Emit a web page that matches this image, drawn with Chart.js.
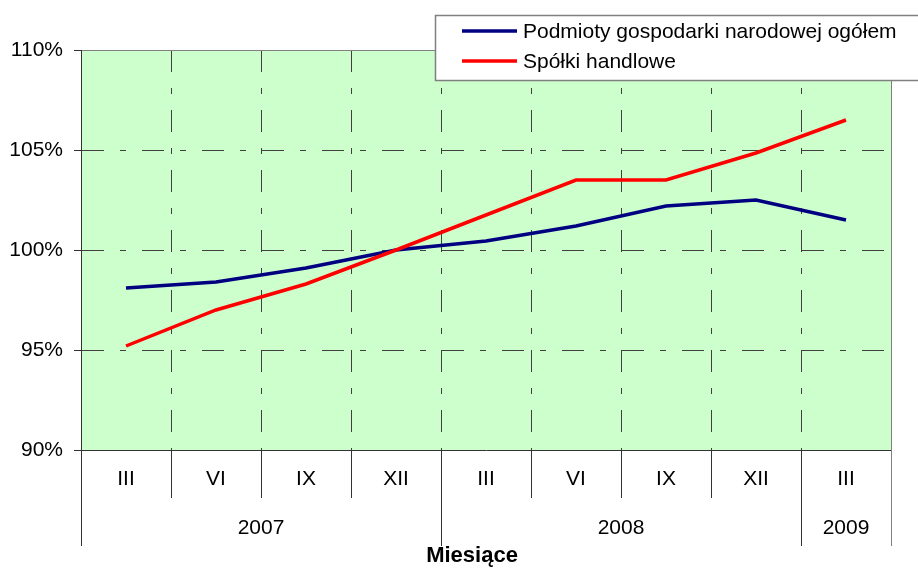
<!DOCTYPE html>
<html><head><meta charset="utf-8">
<script src="https://cdn.jsdelivr.net/npm/chart.js@4/dist/chart.umd.min.js"></script>
<style>html,body{margin:0;padding:0;background:#fff}canvas{display:block}</style>
</head><body>
<canvas id="c" width="918" height="570"></canvas>
<script>
const months = ['III','VI','IX','XII','III','VI','IX','XII','III'];
const years = ['2007','2008','2009'];
const yearSpans = [4,4,1];
const seriesNames = ['Podmioty gospodarki narodowej ogółem','Spółki handlowe'];
const podmioty = [98.1,98.4,99.1,100.0,100.45,101.2,102.2,102.5,101.5];
const spolki = [95.2,97.0,98.3,100.0,101.75,103.5,103.5,104.85,106.5];
const yMin = 90, yMax = 110, yStep = 5;
const axisTitle = 'Miesiące';

const FONT = "'Liberation Sans', Arial, sans-serif";
const DASH = [22,16,6,16];
const COLORS = ['#000080','#FF0000'];

const bgPlugin = {
  id:'bg',
  beforeDraw(chart){
    const {ctx, chartArea:a} = chart;
    ctx.save(); ctx.fillStyle='#CCFFCC';
    ctx.fillRect(a.left,a.top,a.right-a.left,a.bottom-a.top);
    ctx.restore();
  }
};

const extraPlugin = {
  id:'extra',
  afterDraw(chart){
    const ctx = chart.ctx, x = chart.scales.x, a = chart.chartArea;
    const half = (x.getPixelForValue(1)-x.getPixelForValue(0))/2;
    const y0 = a.bottom + 48, y1 = a.bottom + 96;
    ctx.save();
    ctx.font = '21px ' + FONT; ctx.fillStyle = '#000';
    ctx.textAlign = 'center'; ctx.textBaseline = 'middle';
    const edges = [];
    let idx = 0;
    years.forEach((yr,k) => {
      const l = x.getPixelForValue(idx) - half;
      const r = x.getPixelForValue(idx + yearSpans[k] - 1) + half;
      edges.push(l);
      ctx.fillText(yr, (l+r)/2, y0 + 30);
      idx += yearSpans[k];
      if (k === years.length-1) edges.push(r);
    });
    ctx.lineWidth = 1;
    edges.forEach((e,k) => {
      ctx.strokeStyle = k === edges.length-1 ? '#808080' : '#333';
      const px = Math.round(e) + 0.5;
      ctx.beginPath(); ctx.moveTo(px, a.bottom); ctx.lineTo(px, y1); ctx.stroke();
    });
    ctx.font = 'bold 22px ' + FONT;
    ctx.fillText(axisTitle, (a.left + a.right)/2 - 14, y1 + 10);

    // legend
    ctx.fillStyle = '#fff';
    ctx.fillRect(435, 15, 500, 65);
    ctx.strokeStyle = '#808080'; ctx.lineWidth = 1.5;
    ctx.strokeRect(435.5, 15.5, 500, 65);
    ctx.font = '21px ' + FONT; ctx.textAlign = 'left'; ctx.fillStyle = '#000';
    seriesNames.forEach((n,i) => {
      const yy = 31 + i*30;
      ctx.strokeStyle = COLORS[i]; ctx.lineWidth = 3.5;
      ctx.beginPath(); ctx.moveTo(462, yy); ctx.lineTo(517, yy); ctx.stroke();
      ctx.fillText(n, 523, yy + 1);
    });
    ctx.restore();
  }
};

new Chart(document.getElementById('c'), {
  type: 'line',
  data: {
    labels: months,
    datasets: [
      {label: seriesNames[0], data: podmioty, borderColor: COLORS[0], borderWidth: 3.5, pointRadius: 0, tension: 0, fill: false, order: 1},
      {label: seriesNames[1], data: spolki, borderColor: COLORS[1], borderWidth: 3.5, pointRadius: 0, tension: 0, fill: false, order: 0}
    ]
  },
  options: {
    responsive: false, animation: false,
    layout: {padding: {top: 50, right: 27, left: 0, bottom: 0}},
    plugins: {legend: {display: false}, tooltip: {enabled: false}},
    scales: {
      x: {
        type: 'category', offset: true,
        afterFit(s){ s.height = 120; },
        grid: {
          offset: true, lineWidth: 1,
          color: c => c.type !== 'tick' ? '#808080' : '#404040',
          drawTicks: true, tickLength: 48,
          tickColor: c => c.type !== 'tick' ? '#808080' : '#333',
          tickBorderDash: [], tickWidth: 1
        },
        border: {display: true, color: '#333', width: 1, dash: c => (c.type !== 'tick') ? [] : DASH},
        ticks: {padding: -31, font: {size: 21, family: FONT}, color: '#000', maxRotation: 0, autoSkip: false}
      },
      y: {
        min: yMin, max: yMax,
        afterFit(s){ s.width = 81; },
        grid: {
          lineWidth: 1,
          color: c => (c.tick && c.tick.value === yMax) ? '#808080' : '#404040',
          drawTicks: true, tickLength: 7, tickColor: '#333', tickBorderDash: []
        },
        border: {display: true, color: '#333', width: 1, dash: c => (c.tick && c.tick.value === yMax) ? [] : DASH},
        ticks: {stepSize: yStep, padding: 11, callback: v => v + '%', font: {size: 21, family: FONT}, color: '#000'}
      }
    }
  },
  plugins: [bgPlugin, extraPlugin]
});
</script>
</body></html>
